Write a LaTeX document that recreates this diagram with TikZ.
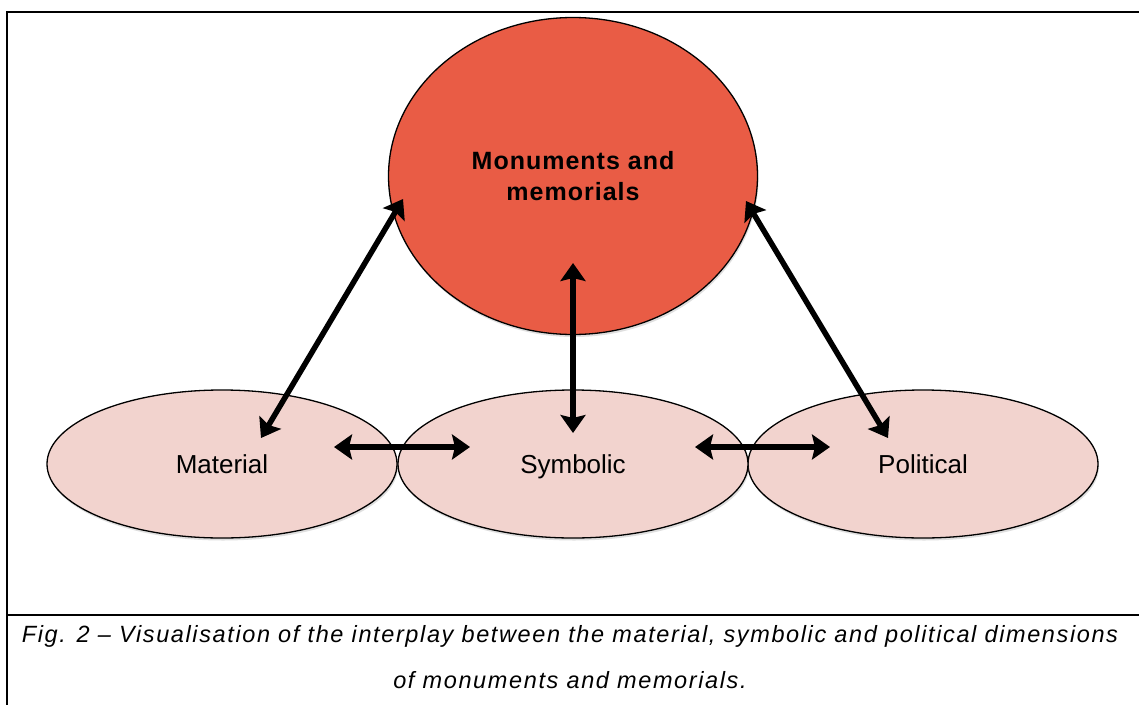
\documentclass[tikz,border=0pt]{standalone}
\usepackage{fontspec}
\setmainfont{Liberation Sans}
\usetikzlibrary{arrows.meta,shapes.geometric,shadows}
\definecolor{bigred}{RGB}{233,92,69}
\definecolor{pinkfill}{RGB}{242,211,206}
\begin{document}
\begin{tikzpicture}[x=1pt,y=-1pt,
  frameline/.style={line width=2.6pt, line cap=rect},
  bigell/.style={ellipse, draw=black, line width=1.3pt, fill=bigred, minimum width=369pt, minimum height=317pt, inner sep=0pt, align=center,
    font=\bfseries\fontsize{25}{31}\selectfont\addfontfeature{LetterSpace=4},
    drop shadow={opacity=0.25, shadow xshift=1pt, shadow yshift=-2.5pt}},
  smallell/.style={ellipse, draw=black, line width=1.3pt, fill=pinkfill, minimum width=350pt, minimum height=148pt, inner sep=0pt,
    text height=19pt, text depth=1pt,
    font=\fontsize{26}{30}\selectfont,
    drop shadow={opacity=0.25, shadow xshift=1pt, shadow yshift=-2.5pt}},
  dblarrow/.style={line width=5.5pt, {Stealth[length=18pt,width=25pt,inset=3pt]}-{Stealth[length=18pt,width=25pt,inset=3pt]}},
  captext/.style={anchor=base, inner sep=0pt, font=\itshape\fontsize{23.5}{27}\selectfont\addfontfeature{LetterSpace=6.9}}
]
\useasboundingbox (0,0) rectangle (1139,704);
\fill[white] (0,0) rectangle (1139,704);

% frame
\coordinate (fbl) at (7,704);
\coordinate (ftl) at (7,12);
\coordinate (ftr) at (1139,12);
\coordinate (fml) at (7,615);
\coordinate (fmr) at (1139,615);
\draw[frameline] (fbl) -- (ftl) -- (ftr);
\draw[frameline] (fml) -- (fmr);

% shapes
\node[bigell] (mon) at (573,176) {Monuments and\\memorials};
\node[smallell] (mat) at (222,464) {Material};
\node[smallell] (pol) at (923,464) {Political};
\node[smallell] (sym) at (573,464) {Symbolic};

% arrow end points
\coordinate (matA) at (261,438);
\coordinate (monA) at (403,199);
\coordinate (symA) at (573,433);
\coordinate (monB) at (573,263);
\coordinate (polA) at (888,438);
\coordinate (monC) at (746,201);
\coordinate (matB) at (334,447);
\coordinate (symB) at (470,447);
\coordinate (symC) at (695,447);
\coordinate (polB) at (830,447);

\draw[dblarrow] (matA) -- (monA);
\draw[dblarrow] (symA) -- (monB);
\draw[dblarrow] (polA) -- (monC);
\draw[dblarrow] (matB) -- (symB);
\draw[dblarrow] (symC) -- (polB);

% caption
\node[captext] (cap1) at (570,642) {Fig. 2 – Visualisation of the interplay between the material, symbolic and political dimensions};
\node[captext] (cap2) at (570,688) {of monuments and memorials.};
\end{tikzpicture}
\end{document}
